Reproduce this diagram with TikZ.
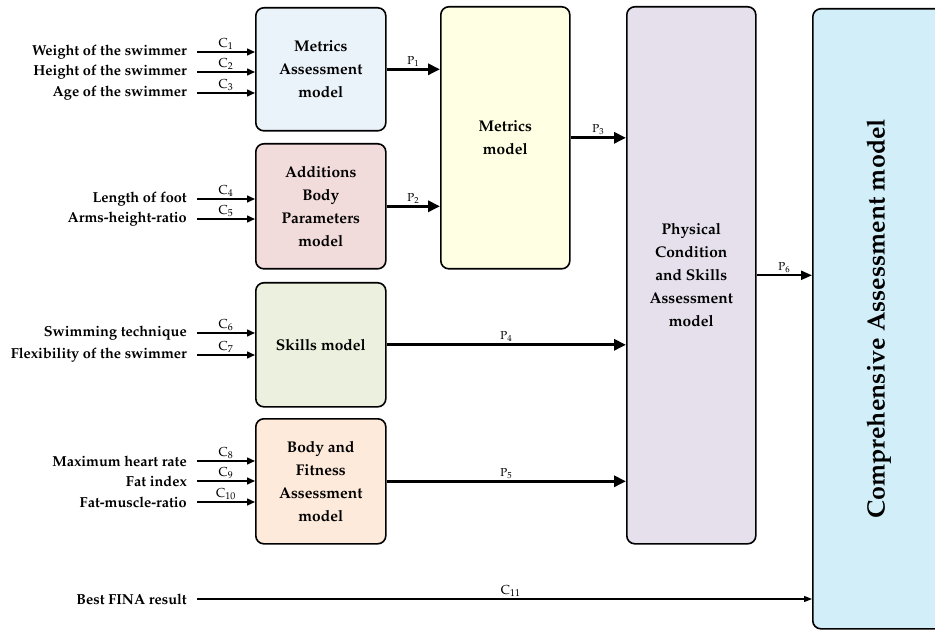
\documentclass[tikz,border=0pt]{standalone}
\usepackage[T1]{fontenc}
\usepackage{mathpazo}
\usetikzlibrary{arrows.meta}
\definecolor{cMA}{HTML}{EAF2FA}
\definecolor{cAB}{HTML}{F2DCDB}
\definecolor{cSK}{HTML}{EBF1DE}
\definecolor{cBF}{HTML}{FDEADA}
\definecolor{cMM}{HTML}{FFFFE3}
\definecolor{cPH}{HTML}{E5E0EC}
\definecolor{cCO}{HTML}{D1EEF9}
\begin{document}
\begin{tikzpicture}[x=1pt,y=-1pt,
  box/.style={draw, line width=1.6pt, rounded corners=8pt, align=center,
    font=\bfseries\fontsize{15.5}{23}\selectfont, inner sep=0pt, anchor=north west},
  inlab/.style={anchor=east, inner sep=0pt, font=\bfseries\fontsize{14.5}{16}\selectfont},
  inarr/.style={line width=1.5pt, -{Triangle[length=8pt,width=7pt]}},
  parr/.style={line width=3pt, -{Triangle[length=12pt,width=11pt]}},
  clab/.style={above, inner sep=1.5pt, font=\fontsize{13}{15}\selectfont},
  plab/.style={above, inner sep=1.5pt, font=\fontsize{11.5}{13}\selectfont}
]
\useasboundingbox (0,0) rectangle (935,631);
% boxes
\node[box, fill=cMA, minimum width=130pt, minimum height=123pt] (ma) at (255,7) {Metrics\\Assessment\\model};
\node[box, fill=cAB, minimum width=130pt, minimum height=125pt] (ab) at (255,143) {Additions\\Body\\Parameters\\model};
\node[box, fill=cSK, minimum width=130pt, minimum height=124pt] (sk) at (255,282) {Skills model};
\node[box, fill=cBF, minimum width=130pt, minimum height=125pt] (bf) at (255,418) {Body and\\Fitness\\Assessment\\model};
\node[box, fill=cMM, minimum width=129pt, minimum height=262pt] (mm) at (440,6) {Metrics\\model};
\node[box, fill=cPH, minimum width=129pt, minimum height=537pt] (ph) at (626,6) {Physical\\Condition\\and Skills\\Assessment\\model};
\node[box, fill=cCO, minimum width=132pt, minimum height=620pt] (co) at (812,8) {};
\node[rotate=90, font=\bfseries\fontsize{25}{29}\selectfont] (cotext) at (co.center) {Comprehensive Assessment model};
% input labels
\node[inlab] (i1) at (187,52) {Weight of the swimmer};
\node[inlab] (i2) at (187,72) {Height of the swimmer};
\node[inlab] (i3) at (187,93) {Age of the swimmer};
\node[inlab] (i4) at (187,199) {Length of foot};
\node[inlab] (i5) at (187,219) {Arms-height-ratio};
\node[inlab] (i6) at (187,333) {Swimming technique};
\node[inlab] (i7) at (187,355) {Flexibility of the swimmer};
\node[inlab] (i8) at (187,461) {Maximum heart rate};
\node[inlab] (i9) at (187,481) {Fat index};
\node[inlab] (i10) at (187,502) {Fat-muscle-ratio};
\node[inlab] (i11) at (187,599) {Best FINA result};
% input arrows
\foreach \i/\t in {1/ma,2/ma,3/ma,4/ab,5/ab,6/sk,7/sk,8/bf,9/bf,10/bf}{
  \draw[inarr] ([xshift=10pt]i\i.east) -- (i\i -| \t.west) node[clab, midway] {C$_{\i}$};
}
\draw[line width=1.3pt, -{Triangle[length=8pt,width=6pt]}] ([xshift=10pt]i11.east) -- (i11 -| co.west) node[clab, pos=0.51] {C$_{11}$};
% process arrows
\draw[parr] (ma.east) -- (ma.east -| mm.west) node[plab, midway] {P$_1$};
\draw[parr] (ab.east) -- (ab.east -| mm.west) node[plab, midway] {P$_2$};
\draw[parr] (mm.east) -- (mm.east -| ph.west) node[plab, midway] {P$_3$};
\draw[parr] (sk.east) -- (sk.east -| ph.west) node[plab, midway] {P$_4$};
\draw[parr] (bf.east) -- (bf.east -| ph.west) node[plab, midway] {P$_5$};
\draw[line width=2.2pt, -{Triangle[length=11pt,width=9pt]}] (ph.east) -- (ph.east -| co.west) node[plab, midway] {P$_6$};
\end{tikzpicture}
\end{document}
